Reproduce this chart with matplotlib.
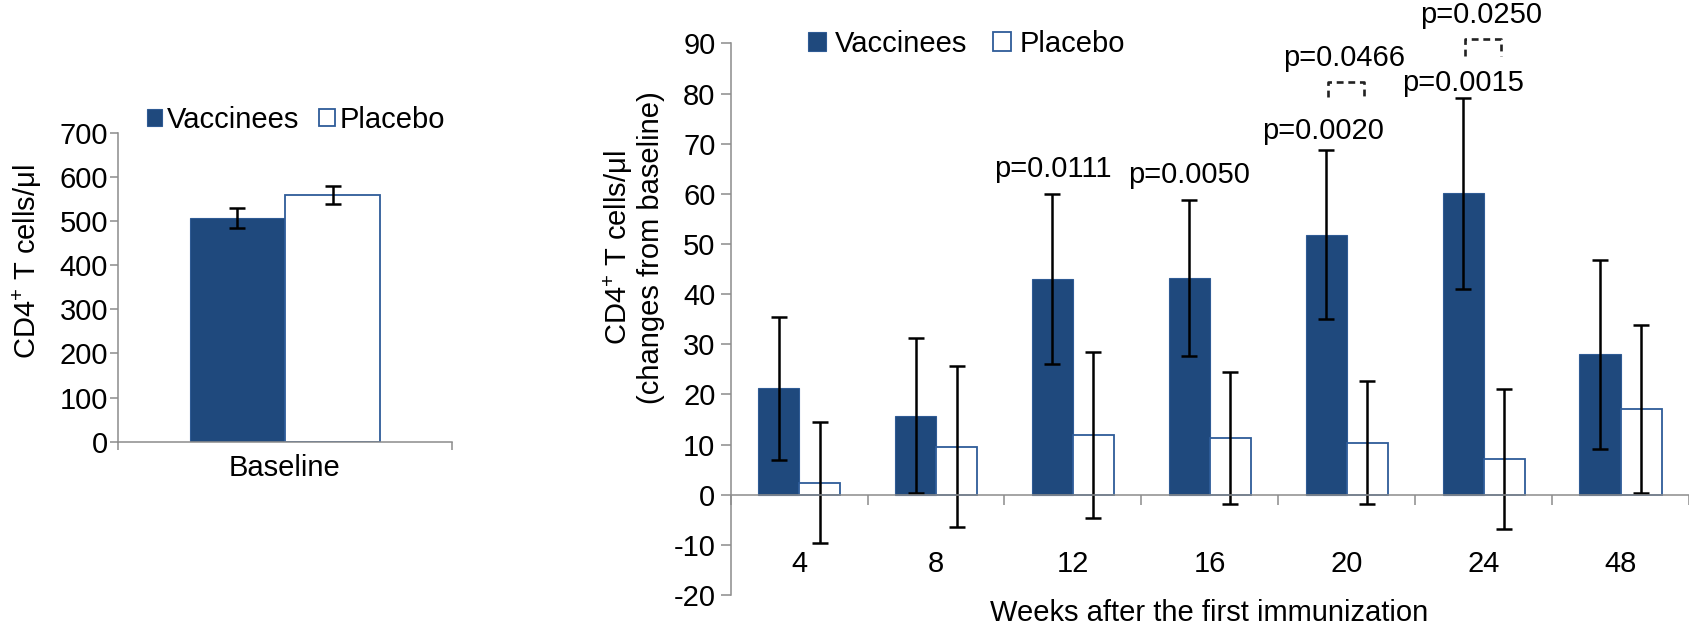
import matplotlib
matplotlib.use('Agg')
import matplotlib.pyplot as plt
import numpy as np
from matplotlib.patches import Patch
from matplotlib.lines import Line2D
from matplotlib.ticker import FixedLocator

plt.rcParams['font.family'] = ['Liberation Sans', 'DejaVu Sans']
plt.rcParams['mathtext.fontset'] = 'custom'
plt.rcParams['mathtext.rm'] = 'Liberation Sans'
plt.rcParams['mathtext.it'] = 'Liberation Sans:italic'
plt.rcParams['mathtext.bf'] = 'Liberation Sans:bold'
plt.rcParams['axes.unicode_minus'] = False

# ---------------- data ----------------
series_names = ['Vaccinees', 'Placebo']

baseline_category = ['Baseline']
baseline_vacc = [508]
baseline_vacc_err = [23]
baseline_plac = [560]
baseline_plac_err = [20]

weeks = ['4', '8', '12', '16', '20', '24', '48']
vacc_change = [21.2, 15.8, 43.0, 43.2, 51.9, 60.1, 28.0]
vacc_err = [14.3, 15.4, 16.9, 15.6, 16.8, 19.0, 18.8]
plac_change = [2.4, 9.6, 11.9, 11.3, 10.4, 7.1, 17.1]
plac_err = [12.1, 16.1, 16.5, 13.2, 12.3, 14.0, 16.8]

p_vs_placebo = ['p=0.0111', 'p=0.0050', 'p=0.0020', 'p=0.0015']
p_vs_placebo_week = ['12', '16', '20', '24']
p_bracket = ['p=0.0466', 'p=0.0250']
p_bracket_week = ['20', '24']

# ---------------- style / layout ----------------
VACC = '#1f497d'
VACC_EDGE = '#2f5b94'
PLAC_EDGE = '#2e5c99'
GRAY = '#8c8c8c'
FS = 21
W, H = 1690, 636

fig = plt.figure(figsize=(W / 100, H / 100), dpi=100)


def rect(x0, x1, ytop, ybot):
    return [x0 / W, 1 - ybot / H, (x1 - x0) / W, (ybot - ytop) / H]


err_kw = dict(ecolor='black', elinewidth=1.8, capsize=5.5, capthick=1.8)

# ---------------- left panel ----------------
axL = fig.add_axes(rect(118.3, 451.7, 133, 441.7))
xb = np.arange(len(baseline_category))
wL = 0.285
axL.bar(xb - wL / 2, baseline_vacc, wL, yerr=baseline_vacc_err, color=VACC,
        edgecolor=VACC_EDGE, linewidth=0.8, error_kw=err_kw)
axL.bar(xb + wL / 2, baseline_plac, wL, yerr=baseline_plac_err, color='white',
        edgecolor=PLAC_EDGE, linewidth=1.3, error_kw=err_kw)
axL.set_xlim(-0.5, 0.5)
axL.set_ylim(0, 700)
axL.set_yticks(np.arange(0, 701, 100))
for s in ['top', 'right']:
    axL.spines[s].set_visible(False)
for s in ['left', 'bottom']:
    axL.spines[s].set_color(GRAY)
    axL.spines[s].set_linewidth(1.1)
axL.tick_params(axis='y', direction='out', length=6, width=1.1, color=GRAY,
                labelsize=FS, pad=1.5)
axL.set_xticks(xb)
axL.set_xticklabels(baseline_category)
axL.tick_params(axis='x', which='major', length=0, pad=9, labelsize=FS)
axL.xaxis.set_minor_locator(FixedLocator([-0.5, 0.5]))
axL.tick_params(axis='x', which='minor', direction='out', length=6, width=1.1, color=GRAY)

handlesL = [Patch(facecolor=VACC, edgecolor=VACC_EDGE, linewidth=0.8),
            Patch(facecolor='white', edgecolor=PLAC_EDGE, linewidth=1.3)]
fig.legend(handlesL, series_names, loc='center left', bbox_to_anchor=(146.7 / W, 1 - 119.5 / H),
           ncol=2, frameon=False, fontsize=FS, handlelength=0.53, handleheight=0.53,
           handletextpad=0.15, columnspacing=0.7, borderpad=0, borderaxespad=0)

fig.text(27 / W, 1 - 261.7 / H, 'CD4$^{+}$ T cells/μl', rotation=90, ha='center',
         va='center', fontsize=FS)

# ---------------- right panel ----------------
axR = fig.add_axes(rect(730.7, 1689, 43.5, 595))
x = np.arange(len(weeks))
wR = 0.30
axR.bar(x - wR / 2, vacc_change, wR, yerr=vacc_err, color=VACC, edgecolor=VACC_EDGE,
        linewidth=0.8, error_kw=err_kw)
axR.bar(x + wR / 2, plac_change, wR, yerr=plac_err, color='white', edgecolor=PLAC_EDGE,
        linewidth=1.3, error_kw=err_kw)
axR.set_xlim(-0.5, len(weeks) - 0.5)
axR.set_ylim(-20, 90)
axR.set_yticks(np.arange(-20, 91, 10))
for s in ['top', 'right']:
    axR.spines[s].set_visible(False)
for s in ['left', 'bottom']:
    axR.spines[s].set_color(GRAY)
    axR.spines[s].set_linewidth(1.1)
axR.spines['bottom'].set_position(('data', 0))
axR.tick_params(axis='y', direction='out', length=7, width=1.1, color=GRAY,
                labelsize=FS, pad=4)
axR.set_xticks(x)
axR.set_xticklabels(weeks)
axR.tick_params(axis='x', which='major', length=0, pad=40, labelsize=FS)
axR.xaxis.set_minor_locator(FixedLocator(np.arange(-0.5, len(weeks), 1.0)))
axR.tick_params(axis='x', which='minor', direction='out', length=7, width=1.1, color=GRAY)

# p-value annotations (vaccinees vs placebo) above vaccinee bars
p_text_y = [64.9, 63.8, 72.6, 82.1]
p_text_dx = [-0.15, -0.15, -0.17, -0.15]
for lab, wk, ty, dx in zip(p_vs_placebo, p_vs_placebo_week, p_text_y, p_text_dx):
    i = weeks.index(wk)
    axR.text(i + dx, ty, lab, ha='center', va='center', fontsize=FS, clip_on=False)

# bracketed p-values
br_text_y = [87.1, 95.6]
br_top = [82.3, 90.9]
br_bot = [79.3, 87.5]
br_text_dx = [-0.02, -0.02]
for lab, wk, ty, bt, bb, dx in zip(p_bracket, p_bracket_week, br_text_y, br_top, br_bot, br_text_dx):
    i = weeks.index(wk)
    x1, x2 = i - 0.135, i + 0.125
    axR.add_line(Line2D([x1, x1, x2, x2], [bb, bt, bt, bb], color='#222222', lw=1.9,
                        linestyle=(0, (2.6, 1.8)), clip_on=False))
    axR.text(i + dx, ty, lab, ha='center', va='center', fontsize=FS, clip_on=False)

handlesR = [Patch(facecolor=VACC, edgecolor=VACC_EDGE, linewidth=0.8),
            Patch(facecolor='white', edgecolor=PLAC_EDGE, linewidth=1.3)]
fig.legend(handlesR, series_names, loc='center left', bbox_to_anchor=(808.3 / W, 1 - 43.7 / H),
           ncol=2, frameon=False, fontsize=FS, handlelength=0.62, handleheight=0.62,
           handletextpad=0.28, columnspacing=0.9, borderpad=0, borderaxespad=0)

fig.text(633.4 / W, 1 - 248 / H, 'CD4$^{+}$ T cells/μl\n(changes from baseline)', rotation=90,
         ha='center', va='center', multialignment='center', linespacing=1.1, fontsize=FS)
fig.text(1209 / W, 1 - 612.7 / H, 'Weeks after the first immunization', ha='center',
         va='center', fontsize=FS)

fig.savefig('out.png', dpi=100)
